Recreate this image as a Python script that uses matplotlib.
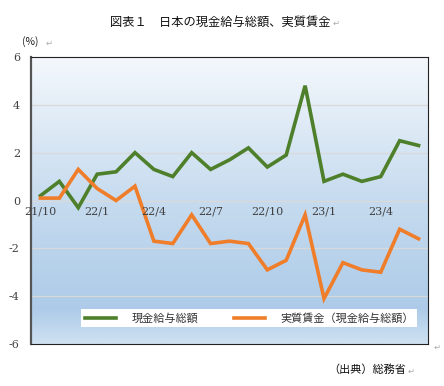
import matplotlib
matplotlib.use("Agg")
import matplotlib.pyplot as plt
import numpy as np
from matplotlib.colors import LinearSegmentedColormap

plt.rcParams['font.family'] = ['Noto Sans CJK JP', 'DejaVu Sans']

months = ["21/10", "21/11", "21/12", "22/1", "22/2", "22/3", "22/4", "22/5", "22/6",
          "22/7", "22/8", "22/9", "22/10", "22/11", "22/12", "23/1", "23/2", "23/3",
          "23/4", "23/5", "23/6"]
nominal = [0.2, 0.8, -0.3, 1.1, 1.2, 2.0, 1.3, 1.0, 2.0, 1.3, 1.7, 2.2, 1.4, 1.9, 4.8,
           0.8, 1.1, 0.8, 1.0, 2.5, 2.3]
real = [0.1, 0.1, 1.3, 0.5, 0.0, 0.6, -1.7, -1.8, -0.6, -1.8, -1.7, -1.8, -2.9, -2.5,
        -0.6, -4.1, -2.6, -2.9, -3.0, -1.2, -1.6]
label_nominal = "現金給与総額"
label_real = "実質賃金（現金給与総額）"
shown_ticks = ["21/10", "22/1", "22/4", "22/7", "22/10", "23/1", "23/4"]
yticks = [-6, -4, -2, 0, 2, 4, 6]

fig = plt.figure(figsize=(4.44, 3.86), dpi=100)
ax = fig.add_axes([31/444, 42/386, 397/444, 287/386])

x = np.arange(len(months))
ax.set_xlim(-0.5, len(months) - 0.5)

# background gradient (top light -> blue -> slightly lighter at bottom)
cmap = LinearSegmentedColormap.from_list("bg", [(0.0, "#f4f8fc"), (0.5, "#c6dbef"),
                                                (0.88, "#adcbe8"), (1.0, "#cfe1f2")])
grad = np.linspace(0, 1, 256).reshape(-1, 1)
ax.imshow(grad, extent=[-0.5, len(months) - 0.5, -6, 6], aspect='auto', cmap=cmap,
          zorder=0, origin='upper')
ax.set_ylim(-6, 6)

for yv in [-4, -2, 2, 4]:
    ax.axhline(yv, color="#d9d9d9", lw=0.9, zorder=1)
ax.axhline(0, color="#d9d9d9", lw=1.0, zorder=1)

ax.plot(x, nominal, color="#4e7f2a", lw=2.6, zorder=3, label=label_nominal,
        solid_joinstyle='miter')
ax.plot(x, real, color="#ef7d2a", lw=2.6, zorder=3, label=label_real,
        solid_joinstyle='miter')

ax.set_yticks(yticks)
ax.set_yticklabels([str(v) for v in yticks], fontsize=8, color="#404040",
                   family=['DejaVu Serif'])
ax.tick_params(axis='y', length=0, pad=8)
ax.set_xticks([])
for lab in shown_ticks:
    i = months.index(lab)
    ax.text(i, -0.25, lab, ha='center', va='top', fontsize=8, color="#404040",
            family=['DejaVu Serif'], zorder=4)

for s in ['top', 'right', 'bottom']:
    ax.spines[s].set_color("#222222")
    ax.spines[s].set_linewidth(0.8)
ax.spines['left'].set_color("#555555")
ax.spines['left'].set_linewidth(1.6)

leg = ax.legend(loc='lower center', bbox_to_anchor=(0.55, 0.06), ncol=2, fontsize=8,
                frameon=True, fancybox=False, framealpha=1.0, edgecolor='white',
                handlelength=2.8, columnspacing=3.2, borderpad=0.3, handletextpad=1.4,
                borderaxespad=0.0)
leg.get_frame().set_linewidth(0)
for t in leg.get_texts():
    t.set_color("#333333")

fig.text(220/444, 1 - 22/386, "図表１　日本の現金給与総額、実質賃金", ha='center', va='center',
         fontsize=8.8, color="#111111")
fig.text(333/444, 1 - 23/386, "↵", ha='left', va='center', fontsize=6, color="#aaaaaa",
         family=['DejaVu Sans'])
fig.text(22/444, 1 - 42/386, "(%)", ha='left', va='center', fontsize=7.5, color="#222222")
fig.text(46/444, 1 - 43/386, "↵", ha='left', va='center', fontsize=6, color="#aaaaaa",
         family=['DejaVu Sans'])
fig.text(406/444, 1 - 370/386, "（出典）総務省", ha='right', va='center', fontsize=8,
         color="#111111")
fig.text(408/444, 1 - 371/386, "↵", ha='left', va='center', fontsize=6, color="#aaaaaa",
         family=['DejaVu Sans'])
fig.text(434/444, 1 - 347/386, "↵", ha='left', va='center', fontsize=6, color="#aaaaaa",
         family=['DejaVu Sans'])

fig.savefig("out.png", dpi=100)
